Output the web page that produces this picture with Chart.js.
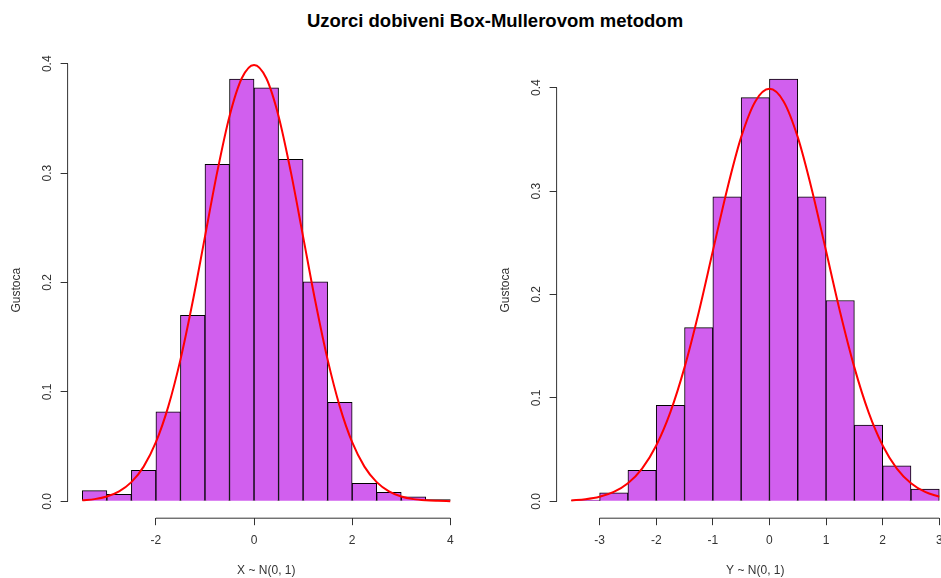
<!DOCTYPE html>
<html>
<head>
<meta charset="utf-8">
<script src="https://cdn.jsdelivr.net/npm/chart.js@4.4.1/dist/chart.umd.min.js"></script>
<style>
    body { margin: 0; background: #fff; overflow: hidden; width: 941px; height: 578px; position: relative; }
    #title { position: absolute; left: 0; width: 990px; top: 9.5px; text-align: center; font: bold 18.5px "Liberation Sans", Arial, sans-serif; color: #000; white-space: nowrap; }
    .panel { position: absolute; top: 0; width: 480px; height: 578px; }
</style>
</head>
<body>
<div id="title">Uzorci dobiveni Box-Mullerovom metodom</div>
<div class="panel" style="left:0"><canvas id="leftchart"></canvas></div>
<div class="panel" style="left:489px"><canvas id="rightchart"></canvas></div>
<script>
// histogram bins (centers) and densities
const xBins = [-3.25, -2.75, -2.25, -1.75, -1.25, -0.75, -0.25, 0.25, 0.75, 1.25, 1.75, 2.25, 2.75, 3.25, 3.75];
const xDensity = [0.0097, 0.0064, 0.0283, 0.0819, 0.170, 0.308, 0.386, 0.378, 0.3126, 0.2007, 0.0905, 0.0165, 0.0082, 0.004, 0.0015];

const yBins = [-3.25, -2.75, -2.25, -1.75, -1.25, -0.75, -0.25, 0.25, 0.75, 1.25, 1.75, 2.25, 2.75];
const yDensity = [0.0013, 0.0083, 0.030, 0.0928, 0.168, 0.2943, 0.3903, 0.4083, 0.2943, 0.1942, 0.0737, 0.0344, 0.0119];

// red density curve, read at quarter steps
const curveX = [-3.5, -3.25, -3, -2.75, -2.5, -2.25, -2, -1.75, -1.5, -1.25, -1, -0.75, -0.5, -0.25, 0,
    0.25, 0.5, 0.75, 1, 1.25, 1.5, 1.75, 2, 2.25, 2.5, 2.75, 3, 3.25, 3.5, 3.75, 4];
const curveY = [0.0009, 0.0020, 0.0044, 0.0091, 0.0175, 0.0317, 0.0540, 0.0863, 0.1295, 0.1826, 0.2420, 0.3011, 0.3521, 0.3867, 0.3989,
    0.3867, 0.3521, 0.3011, 0.2420, 0.1826, 0.1295, 0.0863, 0.0540, 0.0317, 0.0175, 0.0091, 0.0044, 0.0020, 0.0009, 0.0004, 0.0001];

const xTicksLeft = [-2, 0, 2, 4];
const xTicksRight = [-3, -2, -1, 0, 1, 2, 3];
const yTicks = [0, 0.1, 0.2, 0.3, 0.4];

const barColor = "#D15FEE";
const textColor = "#333333";
const font = "'Liberation Sans', Arial, sans-serif";

// R style axis lines: only from first to last tick
const axisLines = {
    id: 'axisLines',
    afterDraw(c) {
        const ctx = c.ctx;
        const xs = c.scales.x, ys = c.scales.y;
        ctx.save();
        ctx.strokeStyle = textColor;
        ctx.lineWidth = 1;
        ctx.beginPath();
        ctx.moveTo(xs.getPixelForValue(xs.ticks[0].value), xs.top);
        ctx.lineTo(xs.getPixelForValue(xs.ticks[xs.ticks.length - 1].value), xs.top);
        ctx.moveTo(ys.right, ys.getPixelForValue(ys.ticks[0].value));
        ctx.lineTo(ys.right, ys.getPixelForValue(ys.ticks[ys.ticks.length - 1].value));
        ctx.stroke();
        ctx.restore();
    }
};

function makeChart(id, bins, dens, lo, hi, xTicks, xmin, xmax, ymin, ymax, xTitle) {
    let cx = [], cy = [];
    for (let i = 0; i < curveX.length; i++) {
        if (curveX[i] >= lo && curveX[i] <= hi) {
            cx.push(curveX[i]);
            cy.push(curveY[i]);
        }
    }
    return new Chart(document.getElementById(id).getContext('2d'), {
        data: {
            datasets: [{
                type: 'line',
                data: cx.map((v, i) => ({x: v, y: cy[i]})),
                borderColor: "#FF0000",
                borderWidth: 2,
                pointRadius: 0,
                fill: false,
                cubicInterpolationMode: 'monotone',
                order: 0
            }, {
                type: 'bar',
                data: bins.map((v, i) => ({x: v, y: dens[i]})),
                backgroundColor: barColor,
                borderColor: "#000000",
                borderWidth: 1,
                barPercentage: 1,
                categoryPercentage: 1,
                order: 1
            }]
        },
        plugins: [axisLines],
        options: {
            responsive: false,
            animation: false,
            layout: { padding: { left: 0, right: 15, top: 62.2, bottom: 0 } },
            scales: {
                x: {
                    type: 'linear',
                    min: xmin,
                    max: xmax,
                    offset: false,
                    afterBuildTicks: s => { s.ticks = xTicks.map(v => ({value: v})); },
                    afterFit: s => { s.height = 59.8; },
                    grid: { display: true, drawOnChartArea: false, drawTicks: true, tickLength: 7, color: textColor, offset: false },
                    border: { display: false },
                    ticks: { color: textColor, padding: 8, maxRotation: 0, font: { family: font, size: 12 } },
                    title: { display: true, text: xTitle, color: textColor, font: { family: font, size: 12 }, padding: { top: 0, bottom: 0 } }
                },
                y: {
                    type: 'linear',
                    min: ymin,
                    max: ymax,
                    afterBuildTicks: s => { s.ticks = yTicks.map(v => ({value: v})); },
                    afterFit: s => { s.width = 67.6; },
                    grid: { display: true, drawOnChartArea: false, drawTicks: true, tickLength: 7, color: textColor },
                    border: { display: false },
                    ticks: {
                        color: textColor, padding: 5, minRotation: 90, maxRotation: 90, crossAlign: 'center',
                        font: { family: font, size: 12 },
                        callback: v => v.toFixed(1)
                    },
                    title: { display: true, text: "Gustoca", color: textColor, font: { family: font, size: 12 }, padding: { top: 9.8, bottom: 0 } }
                }
            },
            plugins: {
                legend: { display: false },
                tooltip: { enabled: false }
            }
        }
    });
}

document.getElementById('leftchart').width = 480;
document.getElementById('leftchart').height = 578;
document.getElementById('rightchart').width = 480;
document.getElementById('rightchart').height = 578;

makeChart('leftchart', xBins, xDensity, -3.5, 4, xTicksLeft, -3.8, 4.3, -0.01544, 0.4014, "X ~ N(0, 1)");
makeChart('rightchart', yBins, yDensity, -3.5, 3, xTicksRight, -3.76, 3.26, -0.01633, 0.4246, "Y ~ N(0, 1)");
</script>
</body>
</html>
